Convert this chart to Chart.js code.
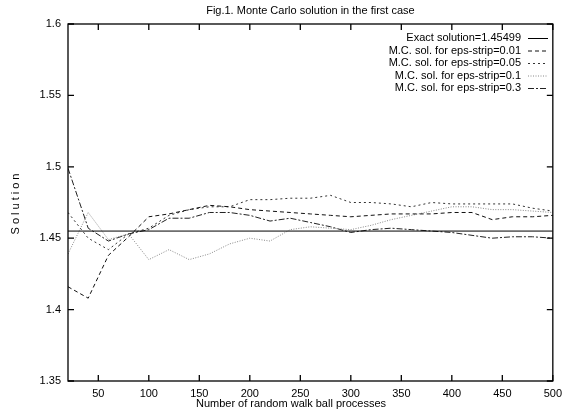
<!DOCTYPE html>
<html>
<head>
<meta charset="utf-8">
<script src="https://cdn.jsdelivr.net/npm/chart.js"></script>
<style>
  html, body { margin: 0; padding: 0; background: #fff; }
</style>
</head>
<body>
<canvas id="myChart" width="568" height="412"></canvas>
<script>
// number of random walk ball processes
const walks = [20, 40, 60, 80, 100, 120, 140, 160, 180, 200, 220, 240, 260, 280, 300, 320, 340, 360, 380, 400, 420, 440, 460, 480, 500];
const exactValue = 1.45499;
// Monte Carlo solutions, one array per eps-strip width
const strip001 = [1.416, 1.408, 1.438, 1.451, 1.465, 1.467, 1.470, 1.473, 1.472, 1.470, 1.469, 1.468, 1.467, 1.466, 1.465, 1.466, 1.467, 1.467, 1.467, 1.468, 1.468, 1.463, 1.465, 1.465, 1.466];
const strip005 = [1.468, 1.450, 1.442, 1.453, 1.457, 1.466, 1.470, 1.472, 1.472, 1.477, 1.477, 1.478, 1.478, 1.480, 1.475, 1.475, 1.474, 1.472, 1.475, 1.474, 1.474, 1.474, 1.474, 1.471, 1.469];
const strip01 = [1.439, 1.468, 1.449, 1.453, 1.435, 1.442, 1.435, 1.439, 1.446, 1.450, 1.448, 1.456, 1.458, 1.457, 1.456, 1.459, 1.463, 1.466, 1.469, 1.472, 1.472, 1.470, 1.470, 1.469, 1.468];
const strip03 = [1.499, 1.457, 1.448, 1.453, 1.456, 1.464, 1.464, 1.468, 1.468, 1.466, 1.462, 1.464, 1.461, 1.458, 1.454, 1.456, 1.457, 1.456, 1.455, 1.454, 1.452, 1.450, 1.451, 1.451, 1.450];

const seriesLabels = ['Exact solution=1.45499', 'M.C. sol. for eps-strip=0.01', 'M.C. sol. for eps-strip=0.05', 'M.C. sol. for eps-strip=0.1', 'M.C. sol. for eps-strip=0.3'];
const xTicks = [50, 100, 150, 200, 250, 300, 350, 400, 450, 500];
const yTicks = [1.35, 1.4, 1.45, 1.5, 1.55, 1.6];

const FONT = "'Liberation Sans', Arial, sans-serif";

function pts(values) {
    return walks.map((w, i) => ({x: w, y: values[i]}));
}

// gnuplot-like frame, inward ticks, legend and axis labels
const gnuplotLook = {
    id: 'gnuplotLook',
    afterDraw(chart) {
        const ctx = chart.ctx;
        const a = chart.chartArea;
        const x = chart.scales.x, y = chart.scales.y;
        ctx.save();
        ctx.strokeStyle = '#000';
        ctx.lineWidth = 1.3;
        ctx.setLineDash([]);
        ctx.strokeRect(a.left, a.top, a.right - a.left, a.bottom - a.top);
        ctx.beginPath();
        xTicks.forEach(v => {
            const p = x.getPixelForValue(v);
            ctx.moveTo(p, a.bottom); ctx.lineTo(p, a.bottom - 6);
            ctx.moveTo(p, a.top); ctx.lineTo(p, a.top + 6);
        });
        yTicks.forEach(v => {
            const p = y.getPixelForValue(v);
            ctx.moveTo(a.left, p); ctx.lineTo(a.left + 6, p);
            ctx.moveTo(a.right, p); ctx.lineTo(a.right - 6, p);
        });
        ctx.stroke();

        // legend, text right aligned with the line sample on its right
        ctx.font = '11px ' + FONT;
        ctx.textAlign = 'right';
        ctx.textBaseline = 'middle';
        chart.data.datasets.forEach((ds, i) => {
            const ry = 38 + i * 12.5;
            ctx.fillStyle = '#000';
            ctx.fillText(ds.label, 521, ry);
            ctx.beginPath();
            ctx.strokeStyle = ds.borderColor;
            ctx.lineWidth = 1;
            ctx.setLineDash(ds.borderDash || []);
            ctx.moveTo(528, ry + 0.5); ctx.lineTo(548, ry + 0.5);
            ctx.stroke();
        });
        ctx.setLineDash([]);

        // x label sits a bit left of the plot centre, like gnuplot does
        ctx.textAlign = 'center';
        ctx.fillText('Number of random walk ball processes', 291, 404);

        ctx.translate(16, (a.top + a.bottom) / 2);
        ctx.rotate(-Math.PI / 2);
        ctx.letterSpacing = '3px';
        ctx.fillText('Solution', 0, 0);
        ctx.restore();
    }
};

const ctx = document.getElementById('myChart');
const chart = new Chart(ctx, {
    type: 'line',
    data: {
        datasets: [
            {label: seriesLabels[0], data: [{x: walks[0], y: exactValue}, {x: walks[walks.length - 1], y: exactValue}], borderColor: '#000', borderWidth: 1},
            {label: seriesLabels[1], data: pts(strip001), borderColor: '#111', borderWidth: 1, borderDash: [4, 3]},
            {label: seriesLabels[2], data: pts(strip005), borderColor: '#333', borderWidth: 1, borderDash: [2, 3]},
            {label: seriesLabels[3], data: pts(strip01), borderColor: '#888', borderWidth: 1, borderDash: [1, 1.5]},
            {label: seriesLabels[4], data: pts(strip03), borderColor: '#222', borderWidth: 1, borderDash: [6, 2, 2, 2]}
        ]
    },
    options: {
        responsive: false,
        animation: false,
        elements: {point: {radius: 0}, line: {tension: 0}},
        layout: {padding: {left: 0, right: 11, top: 0, bottom: 0}},
        plugins: {
            legend: {display: false},
            tooltip: {enabled: false},
            title: {
                display: true,
                fullSize: false,
                text: 'Fig.1. Monte Carlo solution in the first case',
                color: '#000',
                font: {family: FONT, size: 11, weight: 'normal', lineHeight: 1.2},
                padding: {top: 4, bottom: 6.8}
            }
        },
        scales: {
            x: {
                type: 'linear',
                min: 20,
                max: 500,
                afterBuildTicks: s => { s.ticks = xTicks.map(v => ({value: v})); },
                afterFit: s => { s.height = 31; },
                grid: {display: false, drawTicks: false},
                border: {display: false},
                ticks: {color: '#000', padding: 6, maxRotation: 0, font: {family: FONT, size: 11}}
            },
            y: {
                min: 1.35,
                max: 1.6,
                afterBuildTicks: s => { s.ticks = yTicks.map(v => ({value: v})); },
                afterFit: s => { s.width = 68; },
                grid: {display: false, drawTicks: false},
                border: {display: false},
                ticks: {color: '#000', padding: 7, font: {family: FONT, size: 11}, callback: v => String(+v.toFixed(2))}
            }
        }
    },
    plugins: [gnuplotLook]
});
</script>
</body>
</html>
